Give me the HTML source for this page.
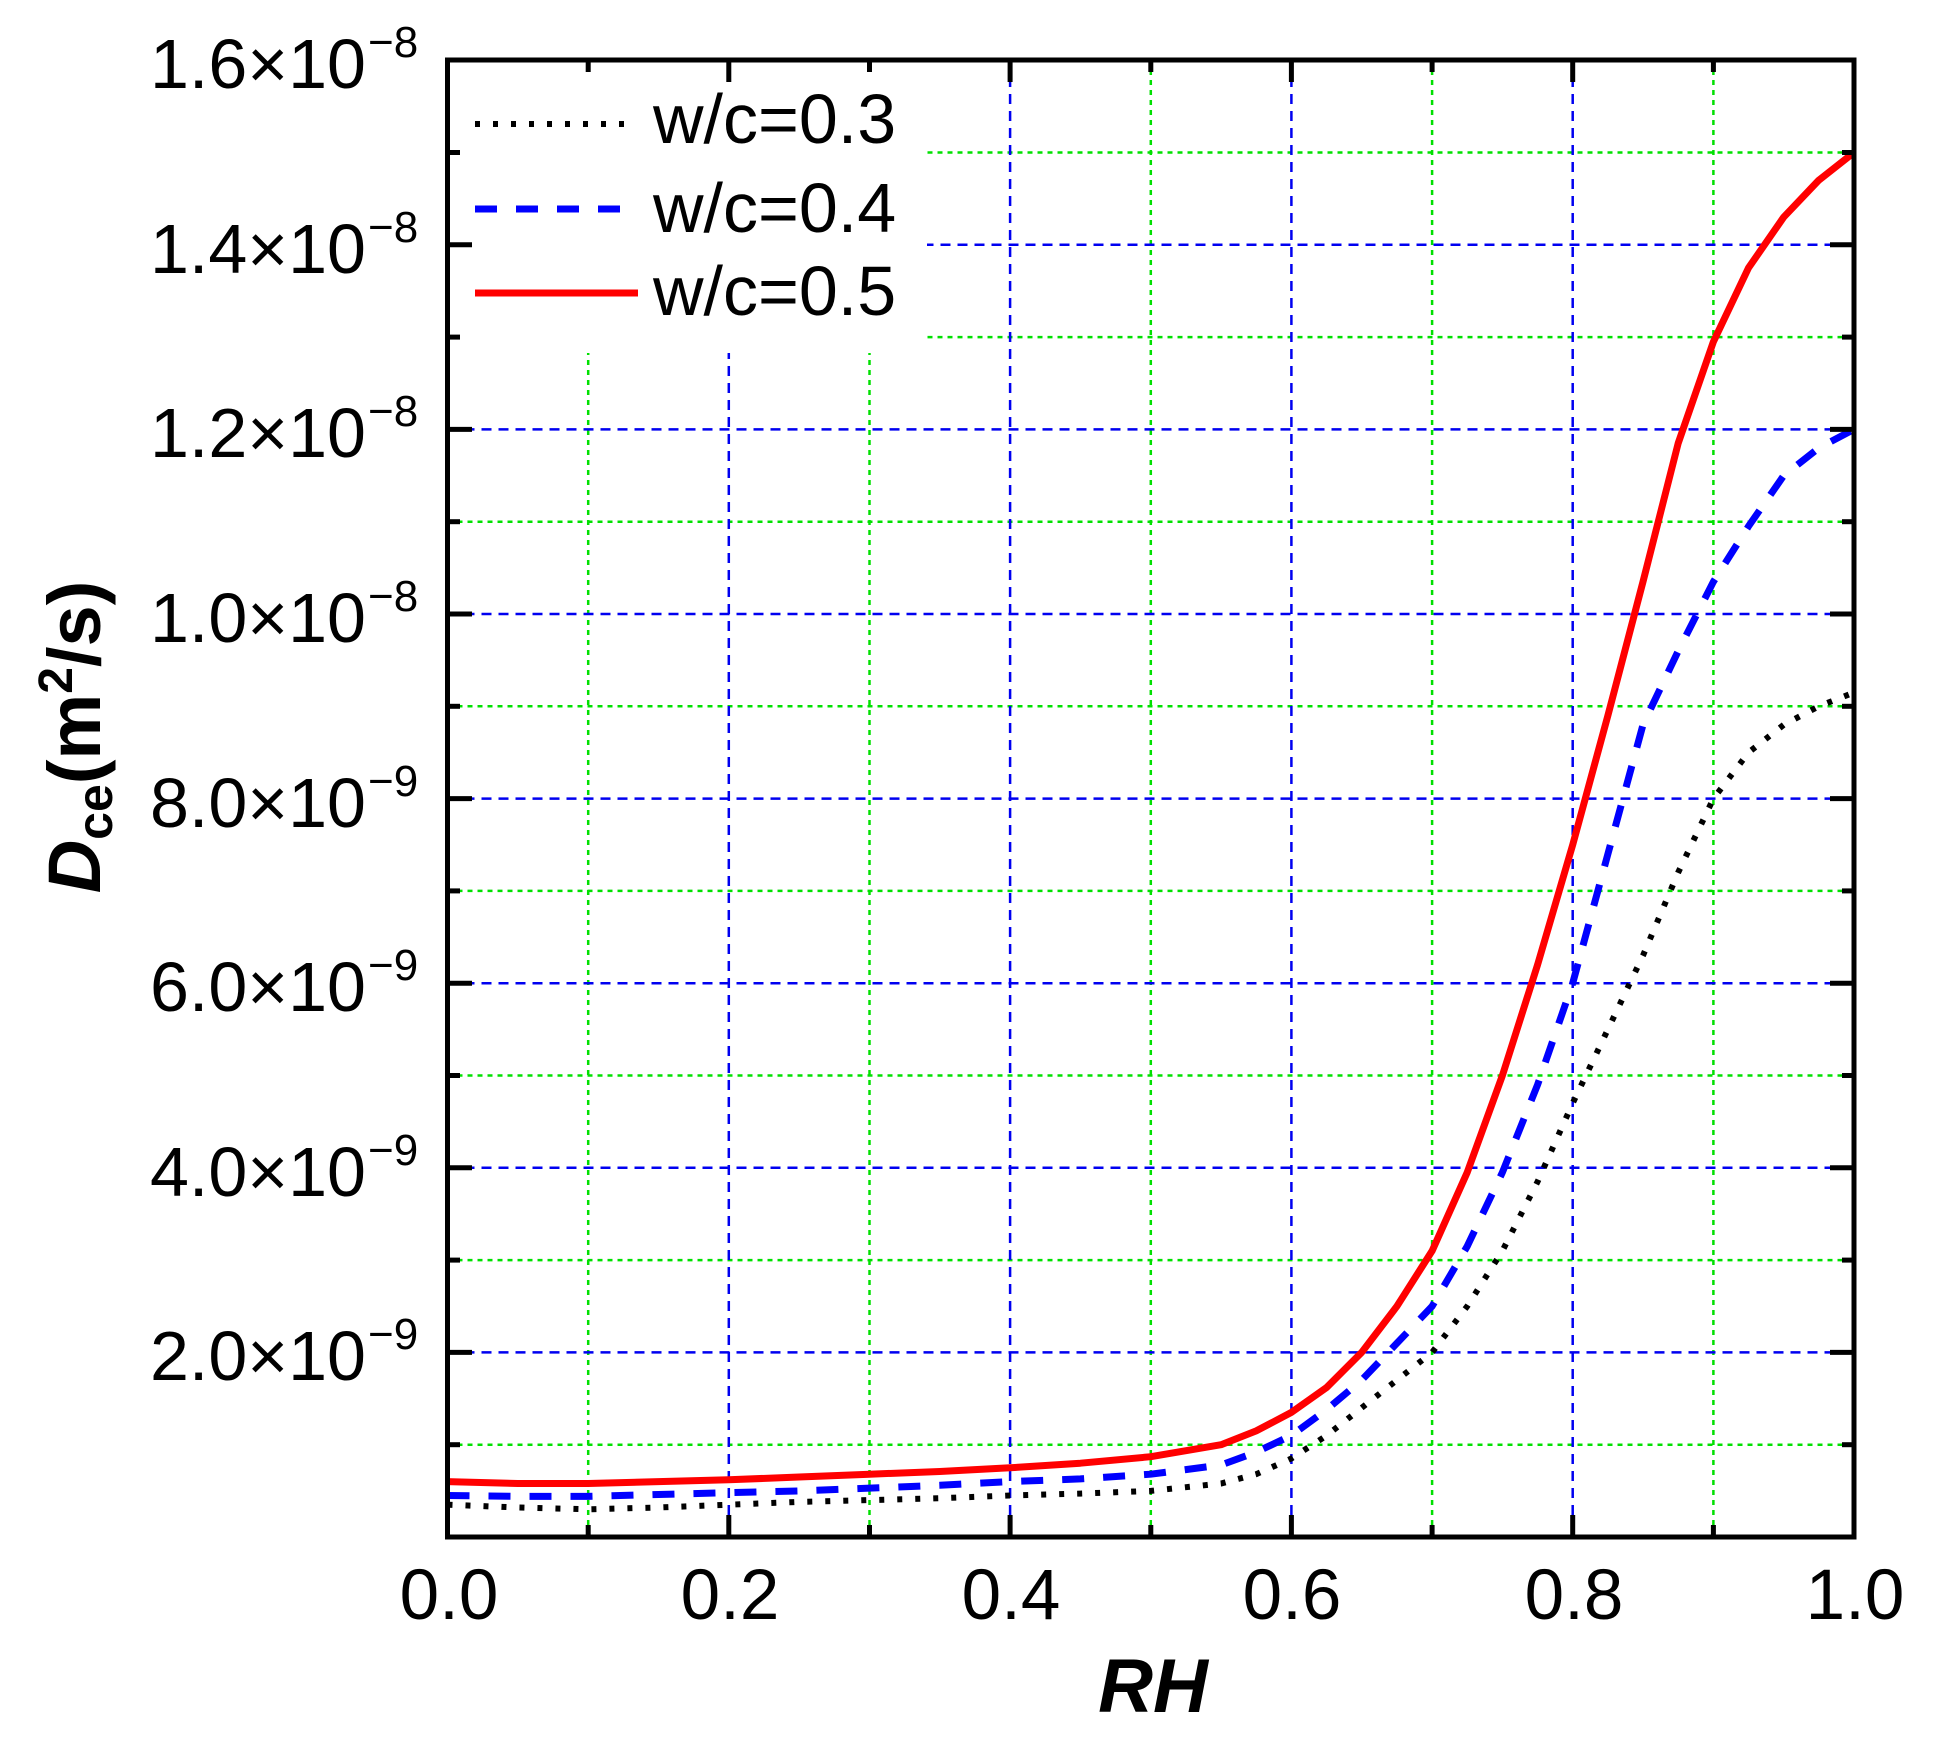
<!DOCTYPE html>
<html><head><meta charset="utf-8"><style>
html,body{margin:0;padding:0;background:#fff;}
svg{display:block;}
text{font-family:"Liberation Sans",Arial,sans-serif;fill:#000;}
</style></head><body>
<svg width="1934" height="1750" viewBox="0 0 1934 1750" xmlns="http://www.w3.org/2000/svg">
<rect width="1934" height="1750" fill="#fff"/>
<g stroke="#00e000" stroke-width="2.5" stroke-dasharray="5 5" fill="none">
<line x1="588.2" y1="60" x2="588.2" y2="1537"/>
<line x1="869.5" y1="60" x2="869.5" y2="1537"/>
<line x1="1150.8" y1="60" x2="1150.8" y2="1537"/>
<line x1="1432.1" y1="60" x2="1432.1" y2="1537"/>
<line x1="1713.4" y1="60" x2="1713.4" y2="1537"/>
<line x1="447.5" y1="1444.7" x2="1854" y2="1444.7"/>
<line x1="447.5" y1="1260.1" x2="1854" y2="1260.1"/>
<line x1="447.5" y1="1075.5" x2="1854" y2="1075.5"/>
<line x1="447.5" y1="890.9" x2="1854" y2="890.9"/>
<line x1="447.5" y1="706.3" x2="1854" y2="706.3"/>
<line x1="447.5" y1="521.7" x2="1854" y2="521.7"/>
<line x1="447.5" y1="337.1" x2="1854" y2="337.1"/>
<line x1="447.5" y1="152.5" x2="1854" y2="152.5"/>
</g>
<g stroke="#0000f0" stroke-width="2.5" stroke-dasharray="10 7" fill="none">
<line x1="728.8" y1="60" x2="728.8" y2="1537"/>
<line x1="1010.1" y1="60" x2="1010.1" y2="1537"/>
<line x1="1291.4" y1="60" x2="1291.4" y2="1537"/>
<line x1="1572.7" y1="60" x2="1572.7" y2="1537"/>
<line x1="447.5" y1="1352.4" x2="1854" y2="1352.4"/>
<line x1="447.5" y1="1167.8" x2="1854" y2="1167.8"/>
<line x1="447.5" y1="983.2" x2="1854" y2="983.2"/>
<line x1="447.5" y1="798.6" x2="1854" y2="798.6"/>
<line x1="447.5" y1="614" x2="1854" y2="614"/>
<line x1="447.5" y1="429.4" x2="1854" y2="429.4"/>
<line x1="447.5" y1="244.8" x2="1854" y2="244.8"/>
</g>
<rect x="450" y="62" width="477" height="291" fill="#fff"/>
<polyline fill="none" stroke="#000" stroke-width="6" stroke-dasharray="5 13" points="447.5,1504.7 517.8,1507.5 588.2,1509.3 658.5,1507.5 728.8,1504.7 799.1,1501.9 869.5,1500.1 939.8,1498.2 1010.1,1495.5 1080.4,1493.6 1150.8,1490.9 1221.1,1483.5 1256.2,1474.2 1291.4,1458.5 1326.6,1435.5 1361.7,1407.8 1396.9,1380.1 1432.1,1352.4 1467.2,1306.3 1502.4,1250.9 1537.6,1181.6 1572.7,1103.2 1607.9,1029.4 1643.0,955.5 1678.2,872.4 1713.4,798.6 1748.5,752.5 1783.7,724.8 1818.8,706.3 1854,692.5"/>
<polyline fill="none" stroke="#0000ff" stroke-width="7" stroke-dasharray="22 19" points="447.5,1495.5 517.8,1496.4 588.2,1496.4 658.5,1494.5 728.8,1492.7 799.1,1490.9 869.5,1488.1 939.8,1485.3 1010.1,1481.6 1080.4,1478.9 1150.8,1474.2 1221.1,1465.0 1256.2,1452.1 1291.4,1435.5 1326.6,1409.6 1361.7,1380.1 1396.9,1343.2 1432.1,1306.3 1467.2,1246.3 1502.4,1172.4 1537.6,1084.7 1572.7,983.2 1607.9,854.0 1643.0,724.8 1678.2,651.0 1713.4,581.7 1748.5,526.3 1783.7,475.6 1818.8,447.9 1854,429.4"/>
<polyline fill="none" stroke="#ff0000" stroke-width="7" stroke-linejoin="round" points="447.5,1481.6 517.8,1483.5 588.2,1483.5 658.5,1481.6 728.8,1479.8 799.1,1477.0 869.5,1474.2 939.8,1471.5 1010.1,1467.8 1080.4,1463.2 1150.8,1456.7 1221.1,1444.7 1256.2,1430.9 1291.4,1412.4 1326.6,1387.5 1361.7,1352.4 1396.9,1306.3 1432.1,1250.9 1467.2,1172.4 1502.4,1075.5 1537.6,964.7 1572.7,844.8 1607.9,715.5 1643.0,581.7 1678.2,443.2 1713.4,341.7 1748.5,267.9 1783.7,217.1 1818.8,180.2 1854,152.5"/>
<line x1="475" y1="124" x2="628" y2="124" stroke="#000" stroke-width="6" stroke-dasharray="5 13"/>
<line x1="475" y1="209" x2="622" y2="209" stroke="#0000ff" stroke-width="7" stroke-dasharray="22 19"/>
<line x1="475" y1="293" x2="638" y2="293" stroke="#ff0000" stroke-width="7"/>
<text x="653" y="143" font-size="70">w/c=0.3</text>
<text x="653" y="232" font-size="70">w/c=0.4</text>
<text x="653" y="315" font-size="70">w/c=0.5</text>
<g stroke="#000" stroke-width="5">
<line x1="728.8" y1="60" x2="728.8" y2="82"/><line x1="1010.1" y1="60" x2="1010.1" y2="82"/><line x1="1291.4" y1="60" x2="1291.4" y2="82"/><line x1="1572.7" y1="60" x2="1572.7" y2="82"/>
<line x1="588.2" y1="60" x2="588.2" y2="72"/><line x1="869.5" y1="60" x2="869.5" y2="72"/><line x1="1150.8" y1="60" x2="1150.8" y2="72"/><line x1="1432.1" y1="60" x2="1432.1" y2="72"/><line x1="1713.4" y1="60" x2="1713.4" y2="72"/>
<line x1="728.8" y1="1537" x2="728.8" y2="1515"/><line x1="1010.1" y1="1537" x2="1010.1" y2="1515"/><line x1="1291.4" y1="1537" x2="1291.4" y2="1515"/><line x1="1572.7" y1="1537" x2="1572.7" y2="1515"/>
<line x1="588.2" y1="1537" x2="588.2" y2="1525"/><line x1="869.5" y1="1537" x2="869.5" y2="1525"/><line x1="1150.8" y1="1537" x2="1150.8" y2="1525"/><line x1="1432.1" y1="1537" x2="1432.1" y2="1525"/><line x1="1713.4" y1="1537" x2="1713.4" y2="1525"/>
<line x1="447.5" y1="1352.4" x2="472" y2="1352.4"/><line x1="447.5" y1="1167.8" x2="472" y2="1167.8"/><line x1="447.5" y1="983.2" x2="472" y2="983.2"/><line x1="447.5" y1="798.6" x2="472" y2="798.6"/><line x1="447.5" y1="614" x2="472" y2="614"/><line x1="447.5" y1="429.4" x2="472" y2="429.4"/><line x1="447.5" y1="244.8" x2="472" y2="244.8"/>
<line x1="447.5" y1="1444.7" x2="460" y2="1444.7"/><line x1="447.5" y1="1260.1" x2="460" y2="1260.1"/><line x1="447.5" y1="1075.5" x2="460" y2="1075.5"/><line x1="447.5" y1="890.9" x2="460" y2="890.9"/><line x1="447.5" y1="706.3" x2="460" y2="706.3"/><line x1="447.5" y1="521.7" x2="460" y2="521.7"/><line x1="447.5" y1="337.1" x2="460" y2="337.1"/><line x1="447.5" y1="152.5" x2="460" y2="152.5"/>
<line x1="1854" y1="1352.4" x2="1830" y2="1352.4"/><line x1="1854" y1="1167.8" x2="1830" y2="1167.8"/><line x1="1854" y1="983.2" x2="1830" y2="983.2"/><line x1="1854" y1="798.6" x2="1830" y2="798.6"/><line x1="1854" y1="614" x2="1830" y2="614"/><line x1="1854" y1="429.4" x2="1830" y2="429.4"/><line x1="1854" y1="244.8" x2="1830" y2="244.8"/>
<line x1="1854" y1="1444.7" x2="1842" y2="1444.7"/><line x1="1854" y1="1260.1" x2="1842" y2="1260.1"/><line x1="1854" y1="1075.5" x2="1842" y2="1075.5"/><line x1="1854" y1="890.9" x2="1842" y2="890.9"/><line x1="1854" y1="706.3" x2="1842" y2="706.3"/><line x1="1854" y1="521.7" x2="1842" y2="521.7"/><line x1="1854" y1="337.1" x2="1842" y2="337.1"/><line x1="1854" y1="152.5" x2="1842" y2="152.5"/>
</g>
<rect x="447.5" y="60" width="1406.5" height="1477" fill="none" stroke="#000" stroke-width="5"/>
<g font-size="70" text-anchor="end">
<text x="366" y="88">1.6×10</text><text x="366" y="273">1.4×10</text><text x="366" y="457">1.2×10</text><text x="366" y="642">1.0×10</text>
<text x="366" y="827">8.0×10</text><text x="366" y="1011">6.0×10</text><text x="366" y="1196">4.0×10</text><text x="366" y="1380">2.0×10</text>
</g>
<g font-size="44">
<text x="368" y="57">−8</text><text x="368" y="242">−8</text><text x="368" y="426">−8</text><text x="368" y="611">−8</text>
<text x="368" y="796">−9</text><text x="368" y="980">−9</text><text x="368" y="1165">−9</text><text x="368" y="1349">−9</text>
</g>
<g font-size="71" text-anchor="middle">
<text x="449" y="1619">0.0</text><text x="730" y="1619">0.2</text><text x="1011" y="1619">0.4</text>
<text x="1292" y="1619">0.6</text><text x="1574" y="1619">0.8</text><text x="1855" y="1619">1.0</text>
</g>
<text x="1153" y="1712" font-size="76" font-weight="bold" font-style="italic" text-anchor="middle">RH</text>
<text transform="translate(100,737) rotate(-90)" font-size="74" font-weight="bold" text-anchor="middle"><tspan font-style="italic">D</tspan><tspan font-size="50" dy="12">ce</tspan><tspan dy="-12">(m</tspan><tspan font-size="48" dy="-28">2</tspan><tspan dy="28">/s)</tspan></text>
</svg>
</body></html>
